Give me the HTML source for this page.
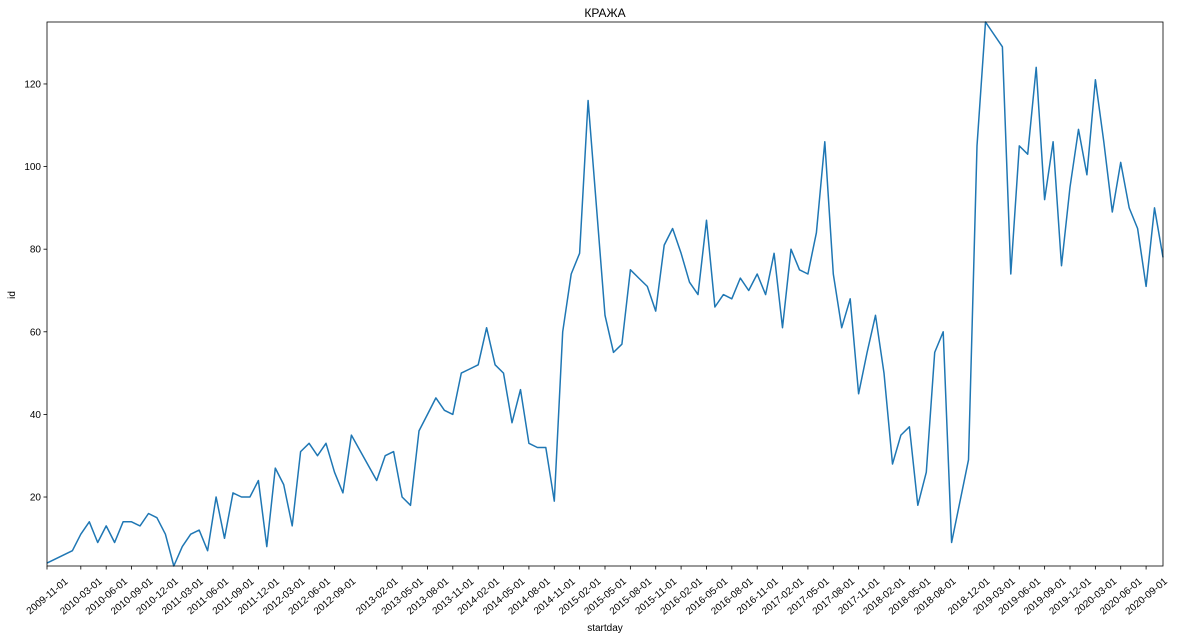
<!DOCTYPE html>
<html><head><meta charset="utf-8"><style>
body{margin:0;background:#fff;}
svg text{font-family:"Liberation Sans","DejaVu Sans",sans-serif;fill:#000;}
</style></head><body>
<svg id="chart" width="1178" height="639" xmlns="http://www.w3.org/2000/svg">
<rect width="1178" height="639" fill="#fff"/>
<text x="605" y="17" font-size="12" text-anchor="middle">КРАЖА</text>
<text x="15" y="295" font-size="10" text-anchor="middle" transform="rotate(-90 15 295)">id</text>
<text x="605" y="631" font-size="10" text-anchor="middle">startday</text>
<g id="plot"></g>
</svg>
<script>
// month index from 2009-11 and value
const months = [0,3,4,5,6,7,8,9,10,11,12,13,14,15,16,17,18,19,20,21,22,23,24,25,26,27,28,29,30,31,32,33,34,35,36,39,40,41,42,43,44,45,46,47,48,49,50,51,52,53,54,55,56,57,58,59,60,61,62,63,64,66,67,68,69,70,71,72,73,74,75,76,77,78,79,80,81,82,83,84,85,86,87,88,89,90,91,92,93,94,95,96,97,98,99,100,101,102,103,104,105,106,107,109,110,111,113,114,115,116,117,118,119,120,121,122,123,124,125,126,127,128,129,130,131,132];
const values = [4,7,11,14,9,13,9,14,14,13,16,15,11,3.3,8,11,12,7,20,10,21,20,20,24,8,27,23,13,31,33,30,33,26,21,35,24,30,31,20,18,36,40,44,41,40,50,51,52,61,52,50,38,46,33,32,32,19,60,74,79,116,64,55,57,75,73,71,65,81,85,79,72,69,87,66,69,68,73,70,74,69,79,61,80,75,74,84,106,74,61,68,45,55,64,50,28,35,37,18,26,55,60,9,29,105,135,129,74,105,103,124,92,106,76,95,109,98,121,106,89,101,90,85,71,90,78];
const tickLabels = ["2009-11-01","2010-03-01","2010-06-01","2010-09-01","2010-12-01","2011-03-01","2011-06-01","2011-09-01","2011-12-01","2012-03-01","2012-06-01","2012-09-01","2013-02-01","2013-05-01","2013-08-01","2013-11-01","2014-02-01","2014-05-01","2014-08-01","2014-11-01","2015-02-01","2015-05-01","2015-08-01","2015-11-01","2016-02-01","2016-05-01","2016-08-01","2016-11-01","2017-02-01","2017-05-01","2017-08-01","2017-11-01","2018-02-01","2018-05-01","2018-08-01","2018-12-01","2019-03-01","2019-06-01","2019-09-01","2019-12-01","2020-03-01","2020-06-01","2020-09-01"];
const yTicks = [20,40,60,80,100,120];

const NS="http://www.w3.org/2000/svg";
const L=47,R=1163,T=22,B=566;
const xMax=Math.max(...months);
const yMin=Math.min(...values), yMax=Math.max(...values);
const xs=m=>L+(m/xMax)*(R-L);
const ys=v=>B-(v-yMin)/(yMax-yMin)*(B-T);
const g=document.getElementById('plot');
function mk(tag,attrs){const e=document.createElementNS(NS,tag);for(const k in attrs)e.setAttribute(k,attrs[k]);g.appendChild(e);return e;}
function monthIdx(s){const y=+s.slice(0,4),m=+s.slice(5,7);return (y-2009)*12+(m-11);}

const line=mk('polyline',{points:months.map((m,i)=>xs(m).toFixed(1)+','+ys(values[i]).toFixed(1)).join(' '),fill:'none',stroke:'#1f77b4','stroke-width':1.5,'stroke-linejoin':'round'});



const frame=mk('rect',{x:L,y:T,width:R-L,height:B-T,fill:'none',stroke:'#000','stroke-width':0.8});



yTicks.forEach(v=>{
  const y=ys(v);
  const t=mk('line',{x1:L-3.5,x2:L,y1:y,y2:y,stroke:'#000','stroke-width':0.8});
  
  
  const tx=mk('text',{x:L-6,y:y+3.5,'font-size':10,'text-anchor':'end'});
  tx.textContent=v;
  
  
});
tickLabels.forEach(s=>{
  const x=xs(monthIdx(s));
  const t=mk('line',{x1:x,x2:x,y1:B,y2:B+3.5,stroke:'#000','stroke-width':0.8});
  
  
  const cy=596;
  const tx=mk('text',{x:x,y:cy+3.5,'font-size':10,'text-anchor':'middle',transform:`rotate(-40 ${x} ${cy})`});
  tx.textContent=s;
  
  
});
</script>
</body></html>
